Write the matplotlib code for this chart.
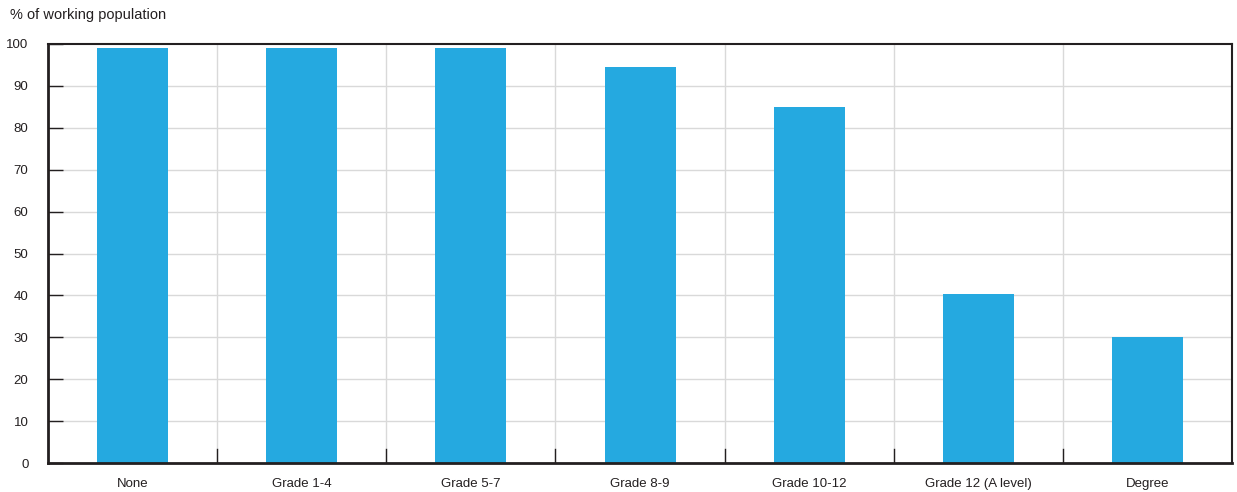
import numpy as np
import matplotlib.pyplot as plt

plt.rcParams['font.family'] = ['Liberation Sans', 'DejaVu Sans']

categories = ['None', 'Grade 1-4', 'Grade 5-7', 'Grade 8-9', 'Grade 10-12',
              'Grade 12 (A level)', 'Degree']
share = [99.0, 99.0, 99.0, 94.5, 85.0, 40.3, 30.1]

fig = plt.figure(figsize=(12.37, 4.92), dpi=100)
ax = fig.add_axes([0.0388, 0.0589, 0.9572, 0.8517])

x = np.arange(len(categories))
ax.bar(x, share, width=0.42, color='#25a9e0', zorder=2)

ax.set_xlim(-0.5, len(categories) - 0.5)
ax.set_ylim(0, 100)
ax.set_yticks(np.arange(0, 101, 10))
ax.set_xticks(x)
ax.set_xticklabels(categories)

# vertical grid on category boundaries, horizontal grid every 10
bounds = np.arange(0.5, len(categories) - 0.5, 1)
for b in bounds:
    ax.axvline(b, color='#d9d9d9', lw=1, zorder=1)
    ax.plot([b, b], [0, 3.3], color='#231f20', lw=1, zorder=3)
for v in np.arange(10, 100, 10):
    ax.axhline(v, color='#d9d9d9', lw=1, zorder=1)

ax.tick_params(axis='x', length=0, pad=11, labelsize=9.5, colors='#231f20')
ax.tick_params(axis='y', direction='in', length=11, width=1, pad=14,
               labelsize=9.5, colors='#231f20')

for side in ['left', 'bottom']:
    ax.spines[side].set_linewidth(2)
    ax.spines[side].set_color('#231f20')
for side in ['top', 'right']:
    ax.spines[side].set_linewidth(1.5)
    ax.spines[side].set_color('#231f20')
for side in ax.spines:
    ax.spines[side].set_zorder(4)

fig.text(10 / 1237, 1 - 15 / 492, '% of working population', fontsize=10.5,
         color='#231f20', va='center', ha='left')

fig.savefig('out.png', dpi=100)
